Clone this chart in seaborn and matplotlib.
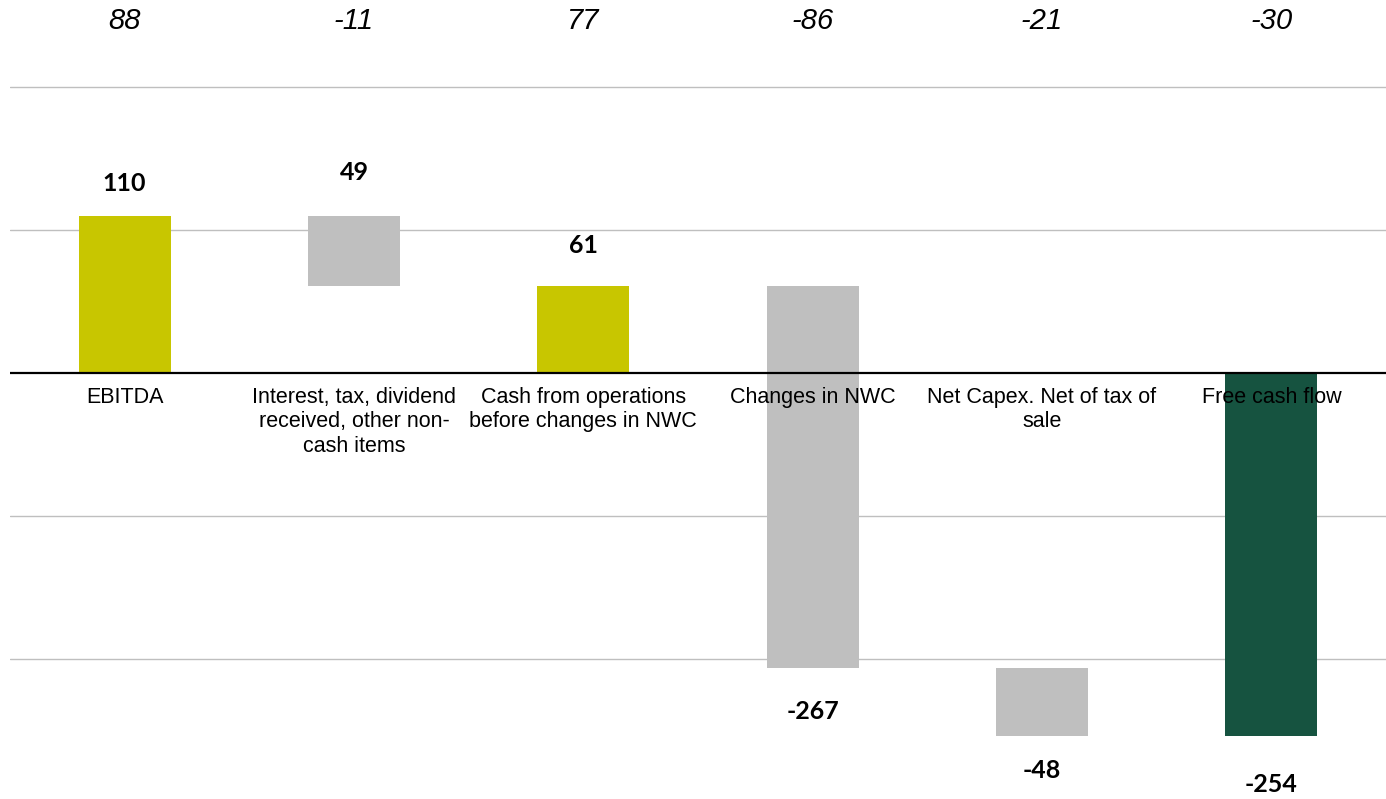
import numpy as np
import pandas as pd
import seaborn as sns
import matplotlib.pyplot as plt
from matplotlib import transforms

# data
categories = ['EBITDA',
              'Interest, tax, dividend\nreceived, other non-\ncash items',
              'Cash from operations\nbefore changes in NWC',
              'Changes in NWC',
              'Net Capex. Net of tax of\nsale',
              'Free cash flow']
values = [110, -49, 61, -267, -48, -254]
is_total = [True, False, True, False, False, True]
label_values = [110, 49, 61, -267, -48, -254]
prior_year = [88, -11, 77, -86, -21, -30]

colors = ['#C8C600', '#BFBFBF', '#C8C600', '#BFBFBF', '#BFBFBF', '#165340']
label_offsets = [23, 31, 29, 32, 25, 35]  # points away from bar end

# waterfall bases
bases = []
heights = []
running = 0
for v, tot in zip(values, is_total):
    if tot:
        bases.append(0)
        heights.append(v)
        running = v
    else:
        bases.append(running)
        heights.append(v)
        running = running + v

df = pd.DataFrame({'cat': categories, 'height': heights})

sns.set_style('white')
plt.rcParams['font.family'] = ['Liberation Sans', 'DejaVu Sans']
plt.rcParams['text.color'] = 'black'

fig = plt.figure(figsize=(13.86, 7.99), dpi=100)
ax = fig.add_axes([10 / 1386, 0, 1376 / 1386, 1])

sns.barplot(data=df, x='cat', y='height', hue='cat', palette=colors,
            legend=False, width=0.4, saturation=1, linewidth=0, ax=ax, zorder=2)

# shift each bar to its waterfall base
for patch, b in zip(ax.patches, bases):
    patch.set_y(b)

ax.set_xlim(-0.5, 5.5)
ax.set_ylim(-298, 261)
ax.set_yticks([-200, -100, 100, 200])
ax.yaxis.grid(True, color='#BFBFBF', lw=1)
ax.set_axisbelow(True)
ax.axhline(0, color='black', lw=1.6, zorder=3)
ax.tick_params(left=False, bottom=False, labelleft=False, labelbottom=False)
ax.set_xlabel('')
ax.set_ylabel('')
sns.despine(ax=ax, left=True, bottom=True)

# value labels
for i, (b, h, lv, off) in enumerate(zip(bases, heights, label_values, label_offsets)):
    top = max(b, b + h)
    bot = min(b, b + h)
    if lv >= 0:
        xy, dy = (i, top), off
    else:
        xy, dy = (i, bot), -off
    ax.annotate(str(lv), xy, xytext=(0, dy), textcoords='offset points',
                ha='center', va='center', fontsize=18, fontweight='bold',
                family=['Lato', 'DejaVu Sans'], color='black', zorder=5)

# category labels below zero line
for i, c in enumerate(categories):
    ax.annotate(c, (i, 0), xytext=(0, -10), textcoords='offset points',
                ha='center', va='top', fontsize=15.5, linespacing=1.22,
                color='black', zorder=5)

# prior year numbers on top
trans = transforms.blended_transform_factory(ax.transData, ax.transAxes)
for i, p in enumerate(prior_year):
    ax.text(i, 1 - 21 / 799, str(p), transform=trans, ha='center', va='center',
            fontsize=21, fontstyle='italic', color='black')

fig.savefig('out.png', dpi=100)
